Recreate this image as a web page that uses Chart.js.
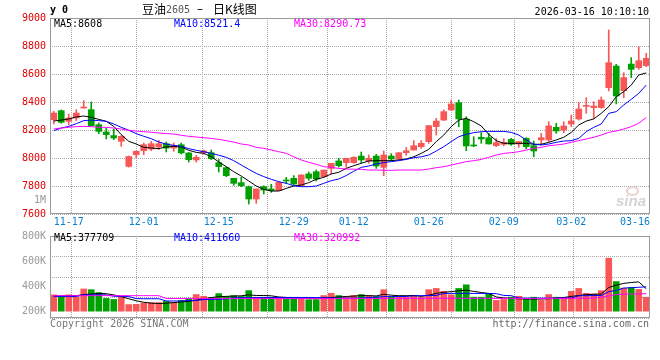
<!DOCTYPE html>
<html><head><meta charset="utf-8">
<script src="https://cdn.jsdelivr.net/npm/chart.js@4/dist/chart.umd.min.js"></script>
<style>
html,body{margin:0;padding:0;background:#fff;}
#wrap{position:relative;width:660px;height:360px;overflow:hidden;font-family:"DejaVu Sans Mono",monospace;}
canvas{position:absolute;left:0;}
.t{position:absolute;white-space:nowrap;font-size:10px;line-height:10px;font-family:"DejaVu Sans Mono",monospace;}
</style></head><body>
<div id="wrap">
<canvas id="pc" width="660" height="232" style="top:0;width:660px;height:232px"></canvas>
<canvas id="vc" width="660" height="134" style="top:226px;width:660px;height:134px"></canvas>

<div class="t" style="left:50px;top:5px;font-weight:bold;letter-spacing:6px;">y0</div>
<div class="t" style="left:142px;top:3px;font:12px/12px 'Noto Sans CJK SC';">豆油</div>
<div class="t" style="left:166px;top:5px;color:#555;">2605</div>
<div class="t" style="left:197px;top:3px;font:12px/12px 'DejaVu Sans';">–</div>
<div class="t" style="left:213px;top:3px;font:12px/12px 'Noto Sans CJK SC';">日K线图</div>
<div class="t" style="right:11px;top:7px;color:#000;">2026-03-16 10:10:10</div>

<div class="t" style="left:54px;top:19px;color:#000;">MA5:8608</div>
<div class="t" style="left:174px;top:19px;color:#0000ff;">MA10:8521.4</div>
<div class="t" style="left:294px;top:19px;color:#ff00ff;">MA30:8290.73</div>

<div class="t" style="left:0;width:46px;text-align:right;top:195px;color:#999;">1M</div>

<div style="position:absolute;left:626px;top:186px;width:9px;height:6px;border:2px solid #ecd0d0;border-radius:50%;"></div>
<div class="t" style="left:616px;top:193px;font:italic bold 15px/15px 'Liberation Sans';color:#d4d4d4;">sina</div>

<div class="t" style="left:54px;top:233px;color:#000;">MA5:377709</div>
<div class="t" style="left:174px;top:233px;color:#0000ff;">MA10:411660</div>
<div class="t" style="left:294px;top:233px;color:#ff00ff;">MA30:320992</div>

<div class="t" style="left:50px;top:319px;color:#777;">Copyright 2026 SINA.COM</div>
<div class="t" style="right:11px;top:319px;color:#666;">http://finance.sina.com.cn</div>
</div>

<script>
// ---- data ----
const dates = ['11-13','11-14','11-17','11-18','11-19','11-20','11-21','11-24','11-25','11-26','11-27','11-28',
'12-01','12-02','12-03','12-04','12-05','12-08','12-09','12-10','12-11','12-12','12-15','12-16','12-17','12-18','12-19',
'12-22','12-23','12-24','12-25','12-26','12-29','12-30','12-31','01-05','01-06','01-07','01-08','01-09','01-12','01-13',
'01-14','01-15','01-16','01-19','01-20','01-21','01-22','01-23','01-26','01-27','01-28','01-29','01-30','02-02','02-03',
'02-04','02-05','02-06','02-09','02-10','02-11','02-12','02-13','02-24','02-25','02-26','02-27','03-02','03-03','03-04',
'03-05','03-06','03-09','03-10','03-11','03-12','03-13','03-16'];
const xTickDates = ['11-17','12-01','12-15','12-29','01-12','01-26','02-09','03-02','03-16'];
const xGridDates = ['11-17','12-01','12-15','12-29','01-12','01-26','02-09','03-02'];
const priceTicks = [7600,7800,8000,8200,8400,8600,8800,9000];
const volTicks = [200000,400000,600000,800000];

const open = [8274,8338,8262,8286,8357,8345,8238,8186,8160,8119,7940,8024,8052,8064,8079,8102,8071,8095,8036,7986,
8038,8038,7967,7931,7855,7824,7795,7707,7795,7779,7767,7840,7855,7802,7886,7902,7867,7926,7979,7967,
7967,8014,7979,8014,7933,8014,7993,8038,8057,8081,8117,8224,8271,8343,8395,8276,8090,8148,8145,8088,
8098,8133,8100,8140,8088,8129,8129,8219,8200,8243,8279,8369,8360,8360,8502,8657,8481,8671,8645,8660];
const close = [8321,8255,8286,8321,8357,8231,8190,8167,8143,8155,8010,8048,8095,8102,8102,8071,8090,8036,7988,8005,
8050,7995,7938,7874,7819,7802,7707,7779,7771,7767,7826,7836,7814,7879,7855,7850,7914,7962,7945,7998,
8005,7986,7998,7943,8021,7993,8038,8052,8088,8105,8231,8264,8331,8386,8279,8086,8086,8136,8100,8110,
8112,8098,8117,8081,8050,8145,8229,8193,8229,8264,8350,8374,8371,8414,8681,8443,8574,8633,8695,8712];
const high = [8333,8343,8314,8345,8409,8400,8250,8214,8207,8160,8015,8052,8107,8119,8126,8114,8107,8107,8040,8019,
8057,8057,7990,7938,7855,7862,7800,7779,7802,7812,7830,7862,7874,7879,7900,7914,7914,7962,7998,7998,
8010,8043,8021,8026,8050,8031,8038,8076,8124,8124,8231,8283,8343,8414,8414,8295,8152,8181,8176,8140,
8138,8140,8117,8145,8121,8176,8259,8248,8259,8307,8398,8431,8402,8436,8914,8669,8609,8717,8795,8748];
const low = [8243,8248,8236,8267,8357,8226,8174,8136,8131,8083,7935,8000,8024,8052,8060,8043,8048,8029,7971,7971,
8028,7988,7900,7867,7805,7795,7671,7676,7743,7755,7767,7817,7805,7802,7840,7836,7862,7886,7936,7934,
7962,7967,7962,7926,7874,7981,7986,8019,8057,8069,8105,8164,8267,8338,8224,8052,8081,8105,8100,8081,
8086,8090,8076,8067,8009,8093,8117,8176,8181,8224,8271,8319,8283,8355,8479,8386,8431,8574,8633,8652];

const ma5 = [8264,8271,8279,8293,8300,8290,8276,8262,8226,8167,8119,8100,8076,8071,8067,8079,8083,8079,8055,8040,
8033,8009,7972,7938,7902,7871,7836,7800,7776,7764,7764,7783,7800,7807,7824,7848,7862,7886,7898,7926,
7945,7962,7979,7981,7981,7981,7986,7993,8009,8033,8062,8117,8164,8224,8271,8283,8259,8229,8169,8124,
8105,8105,8105,8105,8098,8098,8112,8129,8148,8183,8236,8264,8279,8319,8367,8438,8474,8521,8593,8608];
const ma10 = [8195,8214,8226,8245,8267,8271,8267,8262,8243,8219,8198,8174,8155,8138,8114,8100,8090,8083,8067,8055,
8045,8033,8020,8005,7981,7950,7919,7890,7867,7848,7831,7819,7802,7795,7795,7800,7819,7838,7850,7875,
7905,7933,7943,7957,7967,7974,7981,7990,8002,8009,8021,8050,8081,8117,8152,8169,8181,8188,8190,8190,
8190,8183,8164,8129,8098,8093,8100,8112,8121,8124,8140,8188,8219,8243,8319,8331,8379,8419,8462,8521];
const ma30 = [8207,8214,8219,8224,8226,8224,8219,8219,8214,8207,8198,8192,8188,8184,8179,8174,8171,8162,8155,8150,
8145,8140,8133,8124,8114,8100,8093,8076,8069,8057,8045,8033,8009,7986,7969,7955,7938,7933,7926,7921,
7920,7919,7914,7914,7912,7912,7914,7914,7914,7914,7921,7931,7938,7950,7962,7974,7981,7990,8005,8021,
8033,8038,8045,8057,8069,8076,8088,8093,8100,8112,8124,8136,8148,8164,8183,8193,8207,8224,8248,8290];

const volume = [276000,248000,276000,236000,375000,363000,314000,215000,198000,236000,111000,116000,137000,144000,144000,165000,144000,182000,219000,281000,
252000,231000,297000,248000,264000,248000,347000,236000,236000,236000,219000,219000,219000,219000,193000,193000,264000,302000,264000,236000,
264000,281000,264000,248000,363000,236000,236000,236000,264000,236000,363000,384000,335000,276000,384000,446000,236000,236000,302000,182000,
198000,236000,252000,210000,236000,182000,281000,236000,236000,335000,384000,302000,292000,347000,896000,500000,391000,401000,368000,236000];
const volMa5 = [255000,258000,262000,262000,280000,290000,300000,295000,275000,245000,210000,175000,150000,135000,130000,135000,145000,155000,165000,185000,
210000,230000,245000,250000,255000,260000,275000,265000,265000,260000,240000,232000,225000,220000,212000,210000,220000,232000,240000,248000,
255000,262000,262000,258000,285000,270000,262000,262000,265000,250000,270000,300000,320000,330000,345000,355000,335000,315000,300000,240000,
225000,215000,210000,205000,205000,205000,210000,220000,230000,250000,265000,280000,285000,290000,400000,440000,470000,485000,495000,378000];
const volMa10 = [248000,248000,248000,248000,275000,275000,276000,276000,252000,250000,248000,212000,210000,210000,210000,172000,172000,172000,180000,182000,
196000,198000,200000,210000,226000,228000,228000,228000,230000,230000,232000,232000,232000,232000,232000,230000,228000,222000,220000,220000,
220000,222000,232000,236000,246000,247000,248000,248000,260000,262000,264000,265000,300000,300000,302000,302000,300000,300000,298000,296000,
266000,262000,222000,220000,220000,220000,220000,220000,222000,224000,260000,262000,264000,265000,330000,350000,390000,396000,404000,412000];
const volMa30 = [262000,262000,262000,262000,262000,262000,262000,262000,262000,262000,262000,262000,262000,262000,262000,215000,214000,214000,213000,213000,
213000,212000,212000,212000,213000,213000,214000,214000,214000,214000,214000,214000,213000,213000,213000,212000,212000,213000,213000,214000,
214000,215000,215000,215000,216000,216000,216000,216000,217000,217000,217000,218000,218000,218000,218000,218000,217000,217000,217000,216000,
216000,216000,215000,215000,215000,215000,215000,216000,216000,217000,217000,218000,222000,236000,258000,280000,288000,290000,292000,296000];

// ---- styling ----
const RED = '#f85757', GREEN = '#00a000', GRID = '#a8a8a8';
const MONO = "'DejaVu Sans Mono', monospace";
const candleColors = open.map((o, i) => close[i] >= o ? RED : GREEN);

const frame = {
  id: 'frame',
  afterDatasetsDraw(chart) {
    const {ctx, chartArea: a} = chart;
    ctx.save();
    ctx.setLineDash([]);
    ctx.strokeStyle = '#999';
    ctx.lineWidth = 1;
    const l = Math.floor(a.left) + 0.5, t = Math.floor(a.top) + 0.5;
    const r = Math.ceil(a.right) - 0.5, b = Math.ceil(a.bottom) - 0.5;
    ctx.strokeRect(l, t, r - l, b - t);
    ctx.restore();
  }
};
const xLabels = {
  id: 'xLabels',
  afterDraw(chart) {
    const {ctx, chartArea: a} = chart;
    const xs = chart.scales.x;
    ctx.save();
    ctx.font = '10px ' + MONO;
    ctx.fillStyle = '#0a7fd0';
    ctx.textBaseline = 'alphabetic';
    xTickDates.forEach(d => {
      const idx = dates.indexOf(d);
      const x = xs.getPixelForValue(idx);
      const w = ctx.measureText(d).width;
      let left = x - w / 2;
      if (left + w > a.right) left = a.right - w;
      ctx.fillText(d, left, a.bottom + 11);
    });
    ctx.restore();
  }
};

const lineDs = (data, color, axis) => ({type: 'line', data, borderColor: color, borderWidth: 1,
  fill: false, pointRadius: 0, tension: 0, order: 1, yAxisID: axis});

const xAxis = h => ({type: 'category', offset: true,
  grid: {display: false}, border: {display: false},
  ticks: {display: false},
  afterFit(s) { s.height = h; }});
const xGridAxis = () => ({type: 'linear', position: 'bottom', min: -0.5, max: dates.length - 0.5,
  afterBuildTicks(s) { s.ticks = xGridDates.map(d => ({value: dates.indexOf(d)})); },
  ticks: {display: false},
  grid: {color: GRID, drawTicks: false},
  border: {display: false, dash: [1, 1]},
  afterFit(s) { s.height = 0; }});

new Chart(document.getElementById('pc'), {
  type: 'bar',
  data: {
    labels: dates,
    datasets: [
      {type: 'bar', data: low.map((l, i) => [l, high[i]]), backgroundColor: candleColors,
       borderWidth: 0, barThickness: 1, grouped: false, order: 3, yAxisID: 'y'},
      {type: 'bar', data: open.map((o, i) => [o, close[i]]), backgroundColor: candleColors,
       borderWidth: 0, barThickness: 6, minBarLength: 1, grouped: false, order: 2, yAxisID: 'y'},
      lineDs(ma30, '#ff00ff', 'y'),
      lineDs(ma10, '#0000ff', 'y'),
      lineDs(ma5, '#000000', 'y')
    ]
  },
  options: {
    responsive: false, animation: false, events: [],
    layout: {padding: {top: 18, right: 10, left: 0, bottom: 0}},
    plugins: {legend: {display: false}, tooltip: {enabled: false}},
    scales: {
      x: xAxis(18),
      xg: xGridAxis(),
      y: {min: 7600, max: 9000,
          afterBuildTicks(s) { s.ticks = priceTicks.map(v => ({value: v})); },
          ticks: {color: '#e00000', font: {family: MONO, size: 10}, padding: 4,
                  callback: v => String(v)},
          grid: {color: GRID, drawTicks: false},
          border: {display: false, dash: [1, 1]},
          afterFit(s) { s.width = 50; }}
    }
  },
  plugins: [frame, xLabels]
});

new Chart(document.getElementById('vc'), {
  type: 'bar',
  data: {
    labels: dates,
    datasets: [
      {type: 'bar', data: volume, backgroundColor: candleColors, borderWidth: 0, barThickness: 6,
       grouped: false, order: 2, yAxisID: 'yv'},
      lineDs(volMa30, '#ff00ff', 'yv'),
      lineDs(volMa10, '#0000ff', 'yv'),
      lineDs(volMa5, '#000000', 'yv')
    ]
  },
  options: {
    responsive: false, animation: false, events: [],
    layout: {padding: {top: 8, right: 10, left: 0, bottom: 0}},
    plugins: {legend: {display: false}, tooltip: {enabled: false}},
    scales: {
      x: xAxis(42),
      xg: xGridAxis(),
      yv: {display: false, min: -115500, max: 1270500},
      yl: {position: 'left', min: 150000, max: 800000, weight: 1,
           afterBuildTicks(s) { s.ticks = volTicks.map(v => ({value: v})); },
           ticks: {color: '#999', font: {family: MONO, size: 10}, padding: 4,
                   callback: v => (v / 1000) + 'K'},
           grid: {display: false, drawTicks: false},
           border: {display: false},
           afterFit(s) { s.width = 50; }},
      yg: {position: 'right', min: 0, max: 4,
           ticks: {display: false, stepSize: 1},
           grid: {color: GRID, drawTicks: false},
           border: {display: false, dash: [1, 1]},
           afterFit(s) { s.width = 0; }}
    }
  },
  plugins: [frame]
});
</script>
</body></html>
